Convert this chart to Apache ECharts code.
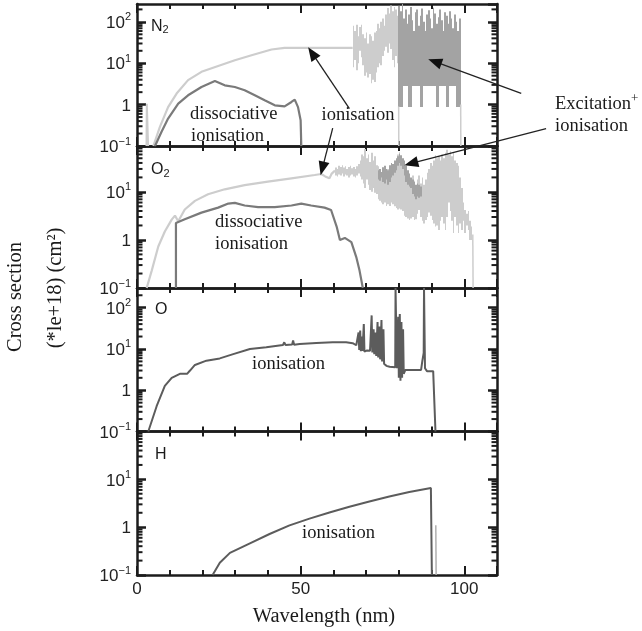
<!DOCTYPE html>
<html><head><meta charset="utf-8">
<script src="https://cdn.jsdelivr.net/npm/echarts@6/dist/echarts.min.js"></script>
<style>html,body{margin:0;padding:0;background:#fff}#c{width:642px;height:631px}</style>
</head><body><div id="c"></div>
<script>
// ---------------- data (wavelength nm, cross section *1e-18 cm2) ----------------
const panelLabels = ['N', 'O', 'O', 'H'];
const panelSubs = ['2', '2', '', ''];
const yMaxes = [270, 90, 300, 100];
const yMin = 0.1;
const xTickLabels = [0, 50, 100];

// N2
const n2IonSpike = [[2.9,0.1],[3.0,1.05],[3.3,1.05],[3.4,0.1]];
const n2Ionisation = [[5.0,0.1],[7.0,0.29],[9.5,0.87],[12.1,1.85],[15.6,3.9],[19.7,6.2],[24.8,8.6],[29.9,11.8],[35.0,15.6],[41.1,21.5],[45.1,23.5],[51.2,23.5],[58.0,23.5],[65.9,23.5]];
const n2IonDrop1 = [[79.95,0.9],[80.0,0.1]];
const n2IonDrop2 = [[98.9,1.0],[98.95,0.1]];
const n2Dissociative = [[5.5,0.1],[7.5,0.22],[9.5,0.46],[12.6,1.06],[15.6,1.68],[19.7,2.67],[23.8,3.72],[26.8,2.93],[29.9,2.67],[32.9,2.22],[36.0,1.68],[39.0,1.27],[42.1,0.96],[45.1,0.91],[47.2,1.16],[48.2,1.32],[49.2,0.87],[50.0,0.42],[50.2,0.1]];
// [start, low, high]
const n2IonBand = [[65.9,8,80],[66.4,12,60],[66.9,6.8,85],[67.4,10,45],[67.9,20,75],[68.4,14,85],[68.9,9,50],[69.4,5,40],[69.9,6,55],[70.4,4.5,30],[70.9,5.5,50],[71.4,3.3,45],[71.9,4,35],[72.4,3.5,55],[72.9,6,60],[73.4,8,90],[73.9,10,70],[74.4,9,100],[74.9,15,120],[75.4,20,80],[75.9,25,150],[76.4,18,215],[76.9,30,160],[77.4,22,250],[77.9,12,180],[78.4,8,230],[78.9,15,200],[79.4,10,140]];
const n2ExcBand = [[79.9,0.87,250],[80.4,0.87,180],[80.9,0.87,270],[81.4,2.8,120],[81.9,2.8,200],[82.4,2.8,90],[82.9,0.87,150],[83.4,0.87,230],[83.9,2.8,110],[84.4,2.8,60],[84.9,2.8,170],[85.4,2.8,200],[85.9,2.8,80],[86.4,0.87,140],[86.9,0.87,210],[87.4,2.8,100],[87.9,2.8,60],[88.4,2.8,150],[88.9,2.8,190],[89.4,2.8,120],[89.9,2.8,70],[90.4,2.8,220],[90.9,2.8,160],[91.4,0.87,90],[91.9,0.87,130],[92.4,2.8,200],[92.9,2.8,110],[93.4,2.8,60],[93.9,2.8,170],[94.4,0.87,140],[94.9,0.87,90],[95.4,2.8,180],[95.9,2.8,120],[96.4,2.8,70],[96.9,2.8,150],[97.4,0.87,100],[97.9,0.87,60],[98.4,0.87,120]];

// O2
const o2Ionisation = [[2.96,0.1],[4.5,0.23],[6.5,0.73],[8.5,1.5],[10.6,2.64],[11.6,3.2],[12.6,2.44],[14.6,4.3],[17.7,6.5],[21.7,8.9],[26.8,11.3],[32.9,13.8],[40.0,16.3],[47.2,19.1],[54.3,22.4],[56.3,23.5],[57.5,21],[58.8,19.1],[59.5,24],[60.5,27.7]];
const o2IonDrop = [[102.6,1.3],[102.7,0.1]];
const o2Dissociative = [[11.9,0.1],[11.9,2.25],[14.6,2.7],[19.7,3.7],[24.8,4.7],[27.9,5.7],[29.9,5.9],[32.9,5.2],[37.0,4.8],[42.1,4.8],[47.2,5.2],[50.2,5.7],[53.2,5.2],[57.3,4.7],[59.3,4.2],[61.0,1.9],[62.0,1.0],[63.5,1.1],[64.0,1.2],[65.5,0.9],[67.0,0.44],[68.0,0.23],[69.0,0.1]];
const o2IonBand = [[60.5,22,32],[61.0,21,30],[61.5,23,35],[62.0,22,33],[62.5,24,36],[63.0,21,32],[63.5,23,34],[64.0,22,30],[64.5,20,33],[65.0,22,35],[65.5,23,31],[66.0,21,33],[66.5,20,30],[67.0,22,34],[67.5,24,38],[68.0,21,45],[68.5,18,60],[69.0,15,55],[69.5,12,78],[70.0,18,50],[70.5,14,60],[71.0,11,42],[71.5,10,65],[72.0,12,45],[72.5,9.6,55],[73.0,9,36],[73.5,7,34],[74.0,6.5,30],[74.5,6,25],[75.0,5.5,33],[75.5,6,28],[76.0,5.1,24],[76.5,5.5,30],[77.0,5.1,22],[77.5,6,27],[78.0,5.5,24],[78.5,5,30],[79.0,4.6,45],[79.5,4.3,60],[80.0,4.5,67],[80.5,4.3,50],[81.0,4.0,40],[81.5,3.2,28],[82.0,3.0,20],[82.5,2.8,15],[83.0,2.6,18],[83.5,2.8,14],[84.0,3.0,22],[84.5,2.6,17],[85.0,2.7,13.6],[85.5,3.5,18],[86.0,4.2,22],[86.5,3.0,15],[87.0,2.5,20],[87.5,2.2,14],[88.0,2.6,18],[88.5,3.0,25],[89.0,3.7,30],[89.5,3.2,40],[90.0,2.6,35],[90.5,2.2,45],[91.0,1.9,58],[91.5,2.0,50],[92.0,1.6,55],[92.5,2.5,45],[93.0,3.0,60],[93.5,2.2,50],[94.0,1.6,65],[94.5,3.0,75],[95.0,6.0,60],[95.5,4.0,70],[96.0,2.5,55],[96.5,1.4,65],[97.0,3.0,45],[97.5,2.0,40],[98.0,1.4,35],[98.5,2.2,20],[99.0,1.6,12],[99.5,2.5,6],[100.0,1.4,4.2],[100.5,2.0,3.5],[101.0,1.6,4.0],[101.5,1.0,2.5],[102.0,1.0,1.9]];
const o2ExcBand = [[73.5,18,28],[74.0,17,30],[74.5,20,26],[75.0,16,32],[75.5,15,35],[76.0,18,30],[76.5,14,28],[77.0,16,36],[77.5,20,40],[78.0,22,38],[78.5,25,45],[79.0,28,50],[79.5,35,55],[80.0,40,62],[80.5,35,58],[81.0,30,50],[81.5,22,45],[82.0,16,35],[82.5,14,28],[83.0,13,24],[83.5,12,20],[84.0,9,18],[84.5,8,16],[85.0,7,14],[85.5,8,15],[86.0,7.5,14],[86.5,8,13]];

// O
const oIonisation = [[3.45,0.1],[6.0,0.41],[8.5,1.27],[10.6,2.0],[13.1,2.5],[15.3,2.5],[16.2,3.0],[17.7,4.1],[21.2,5.2],[25.3,5.9],[29.4,7.5],[34.5,10],[39.5,11],[44.6,12.5],[45.0,14.5],[45.4,12.4],[47.4,12.8],[47.7,16],[48.0,12.6],[49.7,13.2],[54.8,14],[59.8,14.5],[63.9,14.5],[65.9,13.8],[67.0,12.3],[67.5,11.5],[67.7,25],[67.9,9.5],[68.2,28],[68.4,8.8],[68.7,20],[68.9,9],[69.3,40],[69.5,8.6],[70.3,9.2],[71.2,9.0],[71.7,65],[71.9,8.2],[72.3,30],[72.5,7.5],[72.9,25],[73.1,6.8],[73.5,45],[73.7,6.2],[74.1,35],[74.3,5.6],[74.7,50],[74.9,5.0],[75.3,30],[75.5,4.4],[76.2,3.9],[77.2,3.7],[78.9,3.6],[79.0,300],[79.3,300],[79.4,3.4],[79.8,60],[80.0,2.0],[80.3,70],[80.5,1.7],[80.8,45],[81.0,2.0],[81.3,30],[81.5,2.5],[82.0,3.1],[84.5,3.1],[86.8,3.1],[87.2,5.2],[87.6,8],[87.7,300],[87.9,300],[88.0,3.4],[88.6,2.9],[90.5,2.9],[91.0,2.6],[91.2,0.1]];

// H
const hIonisation = [[23.1,0.1],[25.3,0.18],[28.4,0.29],[34.5,0.46],[40.5,0.72],[46.6,1.09],[52.7,1.51],[58.8,2.03],[64.9,2.68],[71.0,3.43],[77.1,4.39],[83.2,5.45],[89.8,6.6],[90.0,6.6],[90.1,0.1]];
const hLightDrop = [[91.3,1.1],[91.4,0.1]];

// annotation arrows: [panel, x, y] tail -> head
const arrows = [
  [[0, 64.9, 0.80], [0, 52.3, 24.4]],
  [[0, 59.8, 0.27], [1, 56.1, 22.1]],
  [[0, 117.4, 1.88], [0, 89.0, 12.5]],
  [[1, 125.0, 206], [1, 81.7, 35.9]]
];

// ---------------- chart ----------------
const X_MIN = 0, X_MAX = 110, BIN = 0.5;
const INK = '#1c1c1c';
const C_LIGHT = '#cdcdcd', C_MID = '#a3a3a3', C_DISS = '#7a7a7a', C_DARK = '#5c5c5c';
const SANS = '"Liberation Sans", Arial, sans-serif';
const SERIF = '"Liberation Serif", "Times New Roman", serif';
const gridBoxes = [
  {top: 4, height: 142}, {top: 146, height: 142}, {top: 288, height: 143.5}, {top: 431.5, height: 143.5}
];
const chart = echarts.init(document.getElementById('c'), null, {renderer: 'canvas'});

const grids = gridBoxes.map(g => ({left: 137, width: 360, top: g.top, height: g.height, show: false, outerBoundsMode: 'none', containLabel: false}));
const xAxes = [], yAxes = [];
for (let p = 0; p < 4; p++) {
  ['bottom', 'top'].forEach(side => {
    xAxes.push({
      type: 'value', gridIndex: p, position: side, min: X_MIN, max: X_MAX, interval: 50,
      axisLine: {show: true, onZero: false, lineStyle: {color: INK, width: 2.5}},
      axisTick: {show: true, inside: true, length: 9, lineStyle: {color: INK, width: 2}},
      minorTick: {show: true, splitNumber: 5, length: 5, lineStyle: {color: INK, width: 2}},
      splitLine: {show: false}, minorSplitLine: {show: false},
      axisLabel: {
        show: p === 3 && side === 'bottom', margin: 6, fontSize: 17, color: '#222', fontFamily: SANS,
        formatter: v => xTickLabels.indexOf(v) >= 0 ? String(v) : ''
      }
    });
  });
  ['left', 'right'].forEach(side => {
    yAxes.push({
      type: 'log', logBase: 10, gridIndex: p, position: side, min: yMin, max: yMaxes[p],
      axisLine: {show: true, onZero: false, lineStyle: {color: INK, width: 2.5}},
      axisTick: {show: true, inside: true, length: 9, lineStyle: {color: INK, width: 2.5}},
      splitLine: {show: false},
      axisLabel: {
        show: side === 'left', margin: 6, showMaxLabel: false,
        formatter: function (v) {
          const e = Math.log10(v), r = Math.round(e);
          if (Math.abs(e - r) > 1e-6) return '';
          return r === 0 ? '{b|1}' : '{b|10}{sup|' + (r < 0 ? '\u2212' + (-r) : r) + '}';
        },
        rich: {
          b: {fontSize: 17, lineHeight: 20, fontFamily: SANS, color: '#222', verticalAlign: 'bottom'},
          sup: {fontSize: 11, lineHeight: 11, fontFamily: SANS, color: '#222', verticalAlign: 'top'}
        }
      }
    });
  });
}

function lineSeries(p, data, color, width, z) {
  return {type: 'line', xAxisIndex: 2 * p, yAxisIndex: 2 * p, data: data, showSymbol: false, symbol: 'none',
    lineStyle: {color: color, width: width}, z: z || 3, silent: true, animation: false, clip: true};
}
function bandSeries(p, data, color, z) {
  return {type: 'custom', xAxisIndex: 2 * p, yAxisIndex: 2 * p, data: data, z: z || 2, silent: true, clip: true,
    encode: {x: 0, y: [1, 2]},
    renderItem: function (params, api) {
      const x = api.value(0), lo = api.value(1), hi = api.value(2);
      const a = api.coord([x, hi]), b = api.coord([x + BIN, lo]);
      const x1 = Math.round(a[0]), x2 = Math.max(Math.round(b[0]), x1 + 1);
      return {type: 'rect', shape: {x: x1, y: a[1], width: x2 - x1, height: b[1] - a[1]},
        style: {fill: color}};
    }};
}
function minorTickSeries(p) {
  const vals = [];
  [0.1, 1, 10, 100].forEach(d => [2, 3, 4, 5, 6, 7, 8, 9].forEach(m => {
    const v = +(d * m).toPrecision(3);
    if (v < yMaxes[p]) vals.push([X_MIN, v]);
  }));
  return {type: 'custom', xAxisIndex: 2 * p, yAxisIndex: 2 * p, data: vals, z: 20, silent: true,
    encode: {x: 0, y: 1},
    renderItem: function (params, api) {
      const v = api.value(1);
      const L = api.coord([X_MIN, v]), R = api.coord([X_MAX, v]);
      return {type: 'group', children: [
        {type: 'line', shape: {x1: L[0], y1: L[1], x2: L[0] + 5.5, y2: L[1]}, style: {stroke: INK, lineWidth: 2}},
        {type: 'line', shape: {x1: R[0] - 5.5, y1: R[1], x2: R[0], y2: R[1]}, style: {stroke: INK, lineWidth: 2}}
      ]};
    }};
}

const series = [
  // N2
  bandSeries(0, n2IonBand, C_LIGHT, 2),
  bandSeries(0, n2ExcBand, C_MID, 3),
  lineSeries(0, n2IonSpike, C_LIGHT, 2),
  lineSeries(0, n2Ionisation, C_LIGHT, 2.2),
  lineSeries(0, n2IonDrop1, C_LIGHT, 1.5),
  lineSeries(0, n2IonDrop2, C_LIGHT, 1.5),
  lineSeries(0, n2Dissociative, C_DISS, 2.2, 4),
  // O2
  bandSeries(1, o2IonBand, C_LIGHT, 2),
  bandSeries(1, o2ExcBand, C_MID, 3),
  lineSeries(1, o2Ionisation, C_LIGHT, 2.2),
  lineSeries(1, o2IonDrop, C_LIGHT, 1.5),
  lineSeries(1, o2Dissociative, C_DISS, 2.2, 4),
  // O
  lineSeries(2, oIonisation, C_DARK, 2),
  // H
  lineSeries(3, hLightDrop, '#b0b0b0', 1.5),
  lineSeries(3, hIonisation, C_DARK, 2),
  minorTickSeries(0), minorTickSeries(1), minorTickSeries(2), minorTickSeries(3)
];

chart.setOption({
  animation: false,
  backgroundColor: '#ffffff',
  grid: grids, xAxis: xAxes, yAxis: yAxes, series: series
});

// ---------------- annotations ----------------
function txt(text, x, y, size) {
  return {type: 'text', x: x, y: y, z: 100, silent: true,
    style: {text: text, font: size + 'px ' + SERIF, fill: '#1a1a1a', align: 'left', verticalAlign: 'middle'}};
}
const gfx = [];
// panel labels (cap-centre positions)
const panelLabelPos = [[151, 27], [151, 170.5], [155, 310], [155, 455]];
panelLabels.forEach((t, i) => {
  gfx.push({type: 'text', x: panelLabelPos[i][0], y: panelLabelPos[i][1] - 8.5, z: 100, silent: true,
    style: {text: '{a|' + t + '}' + (panelSubs[i] ? '{s|' + panelSubs[i] + '}' : ''), align: 'left', verticalAlign: 'top',
      rich: {a: {font: '16px ' + SANS, lineHeight: 17, fill: '#1a1a1a', verticalAlign: 'top'},
             s: {font: '11px ' + SANS, lineHeight: 11, fill: '#1a1a1a', verticalAlign: 'bottom'}}}});
});

gfx.push(txt('dissociative', 190, 114.4, 18.5));
gfx.push(txt('ionisation', 191, 136, 18.5));
gfx.push(txt('ionisation', 321.5, 115, 18.5));
gfx.push({type: 'text', x: 555, y: 102.7, z: 100, silent: true,
  style: {text: '{m|Excitation}{p|+}', align: 'left', verticalAlign: 'middle',
    rich: {m: {font: '18.5px ' + SERIF, lineHeight: 22, fill: '#1a1a1a', verticalAlign: 'bottom'},
           p: {font: '13px ' + SERIF, lineHeight: 13, fill: '#1a1a1a', verticalAlign: 'top'}}}});
gfx.push(txt('ionisation', 555, 126, 18.5));
gfx.push(txt('dissociative', 215, 222.4, 18.5));
gfx.push(txt('ionisation', 215, 244, 18.5));
gfx.push(txt('ionisation', 252, 364.4, 18.5));
gfx.push(txt('ionisation', 302, 532.7, 18.5));
// axis titles
const xt = txt('Wavelength (nm)', 324, 617, 20.5);
xt.style.align = 'center';
gfx.push(xt);
gfx.push({type: 'text', x: 15.8, y: 297, rotation: Math.PI / 2, z: 100, silent: true,
  style: {text: 'Cross section', font: '20.5px ' + SERIF, fill: '#1a1a1a', align: 'center', verticalAlign: 'middle'}});
gfx.push({type: 'text', x: 55.8, y: 288, rotation: Math.PI / 2, z: 100, silent: true,
  style: {text: '(*le+18) (cm\u00b2)', font: '20.5px ' + SERIF, fill: '#1a1a1a', align: 'center', verticalAlign: 'middle'}});

// arrows through the axes' own scales
arrows.forEach(a => {
  const t = chart.convertToPixel({gridIndex: a[0][0]}, [a[0][1], a[0][2]]);
  const h = chart.convertToPixel({gridIndex: a[1][0]}, [a[1][1], a[1][2]]);
  const dx = h[0] - t[0], dy = h[1] - t[1], L = Math.hypot(dx, dy), ux = dx / L, uy = dy / L;
  const hl = 14, hw = 5.5, bx = h[0] - ux * hl, by = h[1] - uy * hl;
  gfx.push({type: 'line', z: 101, silent: true, shape: {x1: t[0], y1: t[1], x2: bx + ux * 2, y2: by + uy * 2},
    style: {stroke: '#222', lineWidth: 1.3}});
  gfx.push({type: 'polygon', z: 101, silent: true,
    shape: {points: [[h[0], h[1]], [bx - uy * hw, by + ux * hw], [bx + uy * hw, by - ux * hw]]},
    style: {fill: '#111'}});
});

chart.setOption({graphic: gfx});
</script></body></html>
